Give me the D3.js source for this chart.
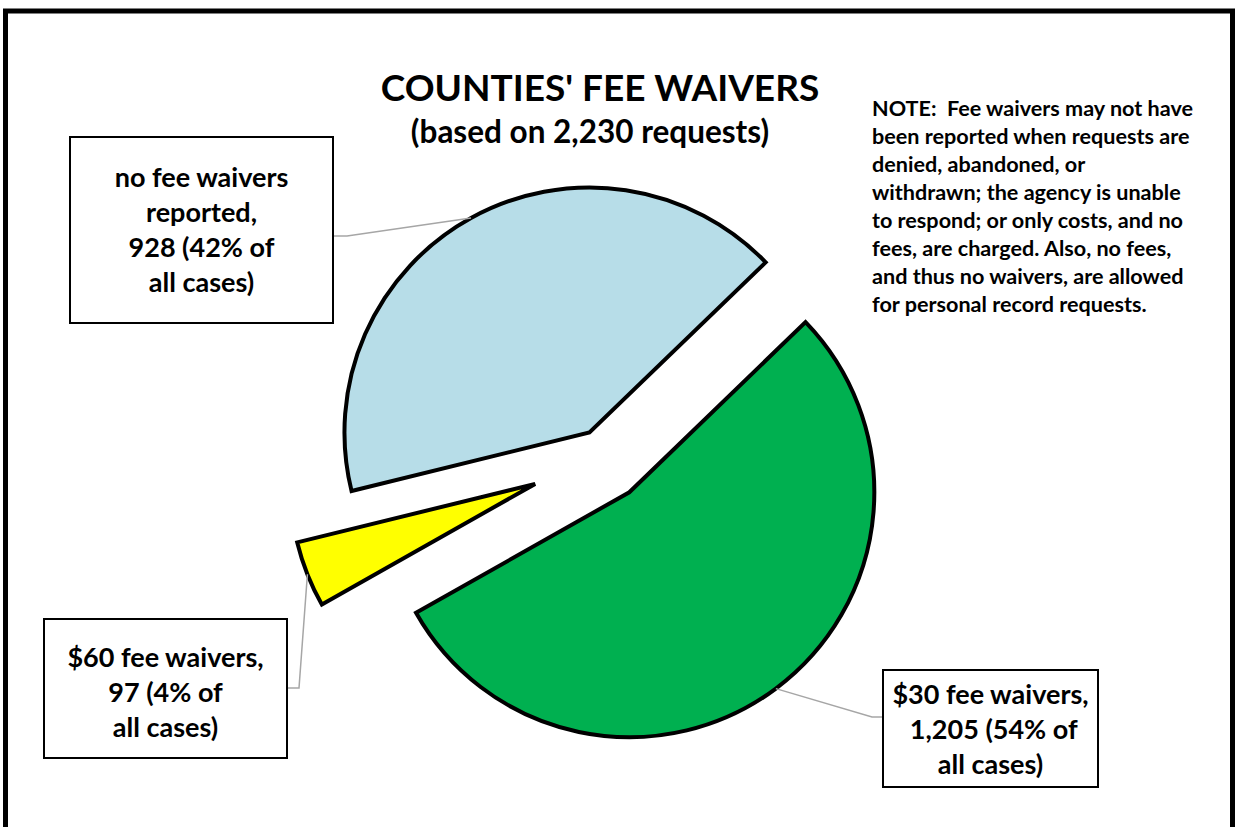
<!DOCTYPE html>
<html lang="en">
<head>
<meta charset="UTF-8">
<title>Counties' Fee Waivers</title>
<script src="https://d3js.org/d3.v7.min.js"></script>
<style>
  body { margin: 0; background: #fff; }
  svg text { font-family: Lato, 'Open Sans', sans-serif; font-weight: 700; fill: #000; white-space: pre; }
</style>
</head>
<body>
<div id="chart"></div>
<script>
// data
const categories = ["$30 fee waivers", "$60 fee waivers", "no fee waivers reported"];
const counts = [1205, 97, 928];
const percents = [54, 4, 42];
const labelLines = [
  ["$30 fee waivers,", " 1,205 (54% of", "all cases)"],
  ["$60 fee waivers,", "97 (4% of", "all cases)"],
  ["no fee waivers", "reported,", "928 (42% of", "all cases)"]
];
const totalRequests = 2230;
const noteLines = [
  "NOTE:  Fee waivers may not have",
  "been reported when requests are",
  "denied, abandoned, or",
  "withdrawn; the agency is unable",
  "to respond; or only costs, and no",
  "fees, are charged. Also, no fees,",
  "and thus no waivers, are allowed",
  "for personal record requests."
];

// styling / layout
const colors = ["#00B050", "#FFFF00", "#B7DDE8"];
const explode = [44, 73, 28];
const width = 1235, height = 827;
const cx = 603, cy = 457, radius = 245;
const startDeg = 46;
const boxes = [
  { x: 883, y: 670, w: 215, h: 117, first: 704, elbow: [872, 717], end: [883, 717] },
  { x: 44, y: 619, w: 243, h: 139, first: 667, elbow: [299, 688], end: [287, 688] },
  { x: 70, y: 137, w: 263, h: 186, first: 187, elbow: [347, 236], end: [333, 236] }
];
const lineGap = 35;

const svg = d3.select("#chart").append("svg")
  .attr("width", width)
  .attr("height", height);

// outer frame
svg.append("rect")
  .attr("x", 5.5).attr("y", 11)
  .attr("width", 1227).attr("height", 900)
  .attr("fill", "#fff")
  .attr("stroke", "#000")
  .attr("stroke-width", 5);

// title
svg.append("text")
  .attr("x", 600).attr("y", 101)
  .attr("text-anchor", "middle")
  .style("font-size", "37px")
  .text("COUNTIES' FEE WAIVERS");

svg.append("text")
  .attr("x", 590).attr("y", 143)
  .attr("text-anchor", "middle")
  .style("font-size", "31.5px")
  .text(`(based on ${d3.format(",")(totalRequests)} requests)`);

// note, clipped at the bottom like the original
svg.append("clipPath").attr("id", "noteClip")
  .append("rect").attr("x", 860).attr("y", 80).attr("width", 370).attr("height", 238);

svg.append("g")
  .attr("clip-path", "url(#noteClip)")
  .selectAll("text")
  .data(noteLines)
  .join("text")
  .attr("x", 872)
  .attr("y", (d, i) => 116 + i * 28)
  .style("font-size", "21.6px")
  .text(d => d);

// exploded pie
const pie = d3.pie().sort(null)
  .startAngle(startDeg * Math.PI / 180)
  .endAngle(startDeg * Math.PI / 180 + 2 * Math.PI);
const arcs = pie(counts);
const arc = d3.arc().innerRadius(0).outerRadius(radius);

function sliceCenter(a, i) {
  const mid = (a.startAngle + a.endAngle) / 2;
  return [cx + explode[i] * Math.sin(mid), cy - explode[i] * Math.cos(mid)];
}

svg.append("g")
  .selectAll("path")
  .data(arcs)
  .join("path")
  .attr("transform", (d, i) => `translate(${sliceCenter(d, i)})`)
  .attr("d", arc)
  .attr("fill", (d, i) => colors[i])
  .attr("stroke", "#000")
  .attr("stroke-width", 4)
  .attr("stroke-linejoin", "miter");

// leader lines
svg.append("g")
  .selectAll("polyline")
  .data(arcs)
  .join("polyline")
  .attr("points", (d, i) => {
    const c = sliceCenter(d, i);
    const mid = (d.startAngle + d.endAngle) / 2;
    const p = [c[0] + radius * Math.sin(mid), c[1] - radius * Math.cos(mid)];
    return [p, boxes[i].elbow, boxes[i].end].map(q => q.join(",")).join(" ");
  })
  .attr("fill", "none")
  .attr("stroke", "#A6A6A6")
  .attr("stroke-width", 1.5);

// label boxes
const lab = svg.append("g")
  .selectAll("g")
  .data(categories)
  .join("g");

lab.append("rect")
  .attr("x", (d, i) => boxes[i].x)
  .attr("y", (d, i) => boxes[i].y)
  .attr("width", (d, i) => boxes[i].w)
  .attr("height", (d, i) => boxes[i].h)
  .attr("fill", "#fff")
  .attr("stroke", "#000")
  .attr("stroke-width", 2);

lab.each(function (d, i) {
  const b = boxes[i];
  d3.select(this).selectAll("text")
    .data(labelLines[i])
    .join("text")
    .attr("x", b.x + b.w / 2)
    .attr("y", (t, j) => b.first + j * lineGap)
    .attr("text-anchor", "middle")
    .style("font-size", "27px")
    .text(t => t);
});
</script>
</body>
</html>
